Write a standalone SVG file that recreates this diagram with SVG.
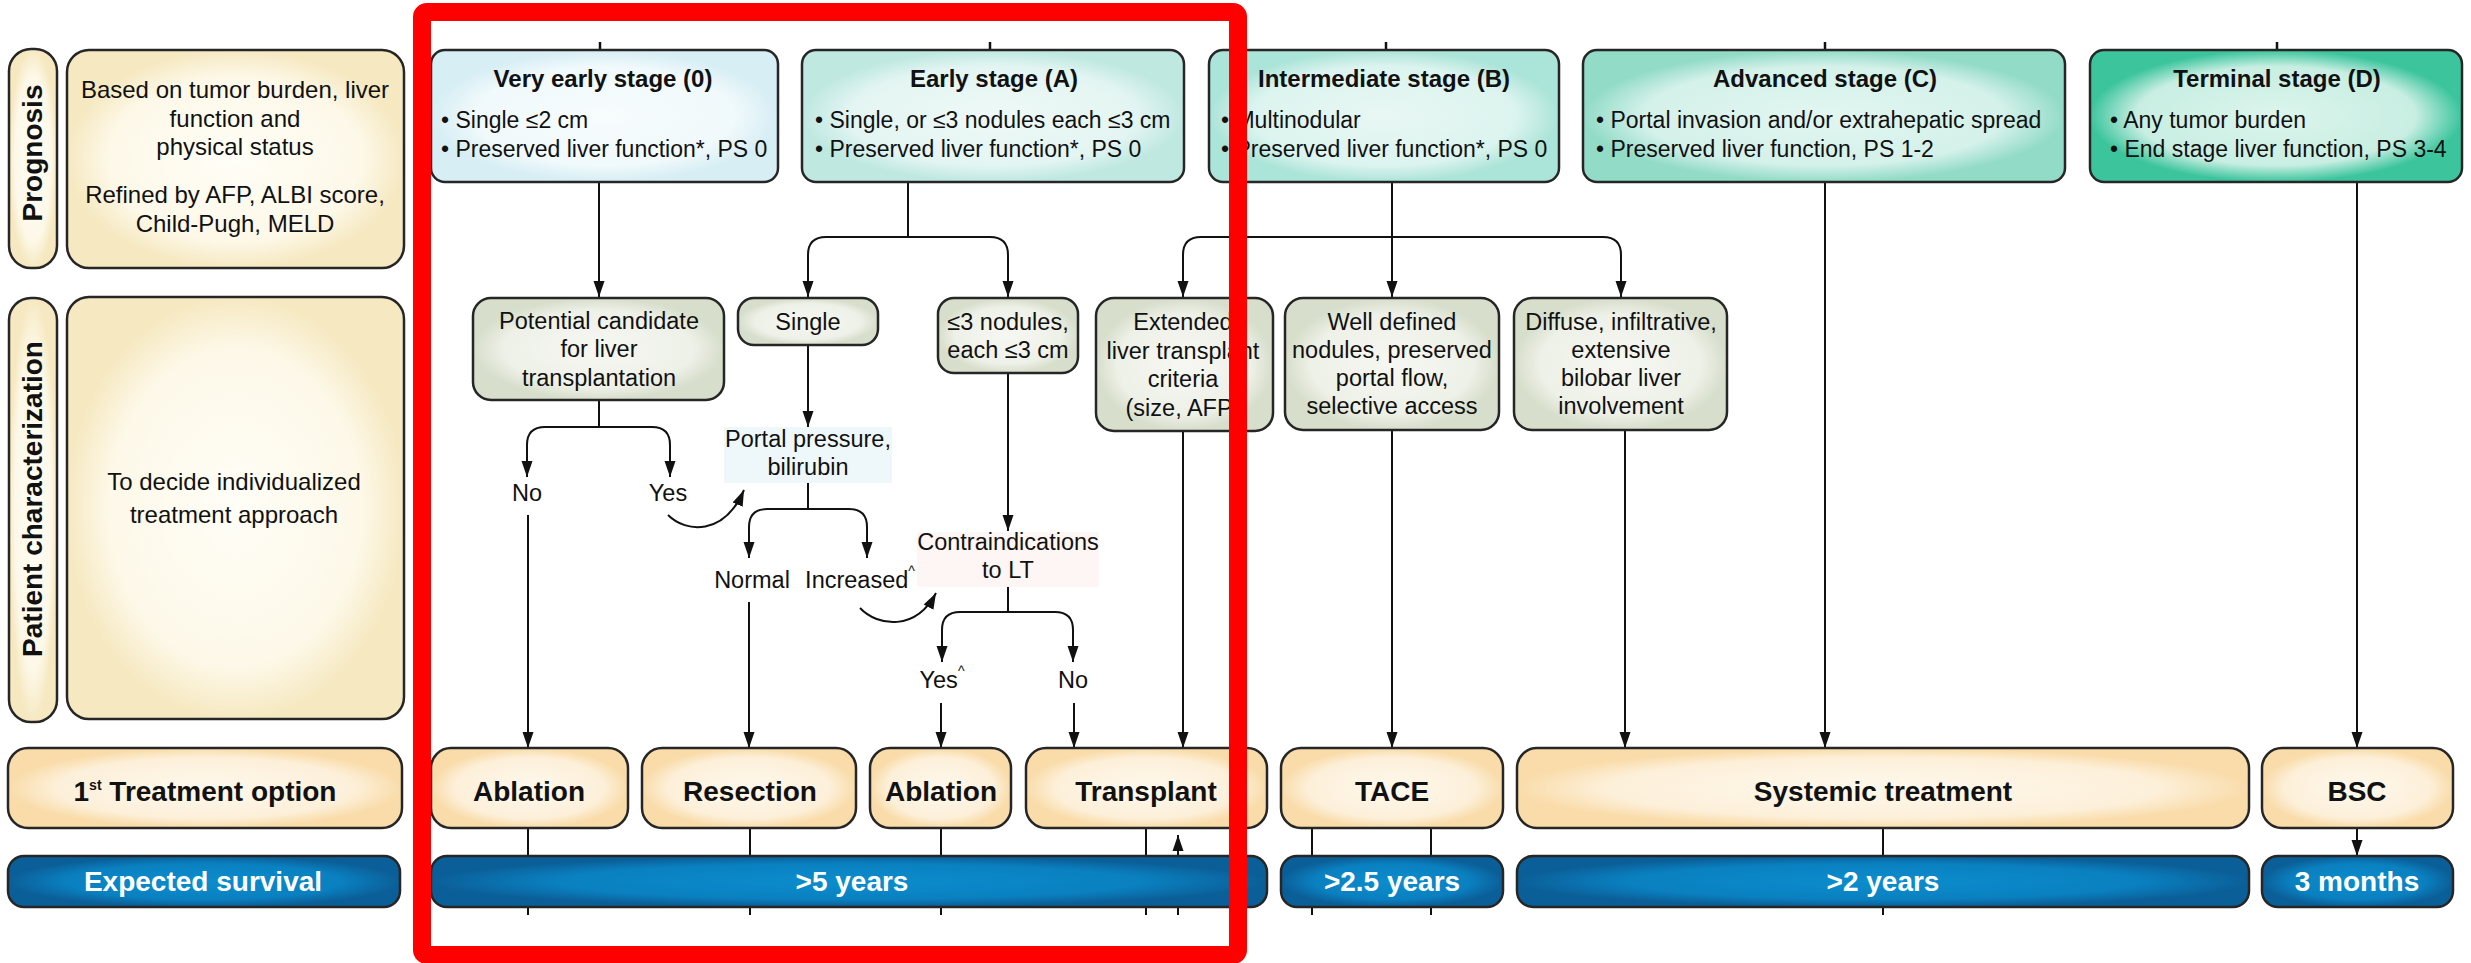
<svg xmlns="http://www.w3.org/2000/svg" width="2471" height="963" viewBox="0 0 2471 963">
  <style>
    text { font-family: "Liberation Sans", Arial, sans-serif; fill: #111; }
    .box { stroke: #262626; stroke-width: 2.5; }
    .title { font-size: 24px; font-weight: bold; text-anchor: middle; }
    .bul { font-size: 23px; }
    .nt { font-size: 23.5px; text-anchor: middle; }
    .side { font-size: 28px; font-weight: bold; text-anchor: middle; }
    .lt { font-size: 24px; text-anchor: middle; }
    .tx { font-size: 28px; font-weight: bold; text-anchor: middle; }
    .sv { font-size: 28px; font-weight: bold; text-anchor: middle; fill: #ffffff; }
    .sup { font-size: 14px; }
    .ln { fill: none; stroke: #111; stroke-width: 2; }
    .arr { fill: none; stroke: #111; stroke-width: 2; marker-end: url(#ah); }
    .tick { stroke: #111; stroke-width: 2.5; }
  </style>
  <defs>
    <marker id="ah" markerUnits="userSpaceOnUse" markerWidth="16" markerHeight="12" refX="16" refY="6" orient="auto">
      <path d="M0,0.5 L16,6 L0,11.5 z" fill="#111"/>
    </marker>
    <radialGradient id="gS0" cx="50%" cy="50%" r="50%"><stop offset="0" stop-color="#f7fcfd"/><stop offset="0.75" stop-color="#f0f9fb"/><stop offset="1" stop-color="#d6eef4"/></radialGradient>
    <radialGradient id="gSA" cx="50%" cy="50%" r="50%"><stop offset="0" stop-color="#eef9f7"/><stop offset="0.75" stop-color="#e3f5f2"/><stop offset="1" stop-color="#bfe8e1"/></radialGradient>
    <radialGradient id="gSB" cx="50%" cy="50%" r="50%"><stop offset="0" stop-color="#e8f7f4"/><stop offset="0.75" stop-color="#dcf4ef"/><stop offset="1" stop-color="#abe4d8"/></radialGradient>
    <radialGradient id="gSC" cx="50%" cy="50%" r="50%"><stop offset="0" stop-color="#e2f6f1"/><stop offset="0.75" stop-color="#d4f1ea"/><stop offset="1" stop-color="#92dbc7"/></radialGradient>
    <radialGradient id="gSD" cx="50%" cy="50%" r="50%"><stop offset="0" stop-color="#dcf5ed"/><stop offset="0.75" stop-color="#c8eee2"/><stop offset="1" stop-color="#3cc59d"/></radialGradient>
    <radialGradient id="gGr" cx="50%" cy="50%" r="50%"><stop offset="0" stop-color="#f6f7f2"/><stop offset="0.75" stop-color="#eef1e8"/><stop offset="1" stop-color="#d7decb"/></radialGradient>
    <radialGradient id="gCr" cx="50%" cy="50%" r="50%"><stop offset="0" stop-color="#fffef7"/><stop offset="0.75" stop-color="#fdf8e8"/><stop offset="1" stop-color="#f6e9c2"/></radialGradient>
    <radialGradient id="gTr" cx="50%" cy="50%" r="50%"><stop offset="0" stop-color="#fef8ec"/><stop offset="0.75" stop-color="#fdf0da"/><stop offset="1" stop-color="#f9dcaa"/></radialGradient>
    <radialGradient id="gBl" cx="50%" cy="50%" r="50%"><stop offset="0" stop-color="#0b8dcd"/><stop offset="0.7" stop-color="#0a80c0"/><stop offset="1" stop-color="#0b5f98"/></radialGradient>
  </defs>

  <rect width="2471" height="963" fill="#ffffff"/>

  <!-- connectors -->
  <g id="connectors">
    <!-- small stubs above the stage boxes -->
    <line class="tick" x1="600" y1="42" x2="600" y2="50"/>
    <line class="tick" x1="990" y1="42" x2="990" y2="50"/>
    <line class="tick" x1="1386" y1="42" x2="1386" y2="50"/>
    <line class="tick" x1="1825" y1="42" x2="1825" y2="50"/>
    <line class="tick" x1="2277" y1="42" x2="2277" y2="50"/>

    <!-- stage 0 -->
    <path class="arr" d="M599,182 V297"/>
    <!-- stage A split -->
    <path class="ln" d="M908,182 V237"/>
    <path class="arr" d="M908,237 H826 Q808,237 808,255 V297"/>
    <path class="arr" d="M908,237 H990 Q1008,237 1008,255 V297"/>
    <!-- stage B split -->
    <path class="arr" d="M1392,182 V297"/>
    <path class="arr" d="M1392,237 H1201 Q1183,237 1183,255 V297"/>
    <path class="arr" d="M1392,237 H1603 Q1621,237 1621,255 V297"/>
    <!-- stage C and D straight down -->
    <path class="arr" d="M1825,182 V748"/>
    <path class="arr" d="M2357,182 V748"/>

    <!-- liver transplant candidate -->
    <path class="ln" d="M599,400 V427"/>
    <path class="arr" d="M599,427 H545 Q527,427 527,445 V477"/>
    <path class="arr" d="M599,427 H652 Q670,427 670,445 V477"/>
    <path class="arr" d="M528,515 V748"/>
    <path class="arr" d="M668,515 C686,533 724,536 744,490"/>

    <!-- single nodule -->
    <path class="arr" d="M808,345 V427"/>
    <path class="ln" d="M808,483 V509"/>
    <path class="arr" d="M808,509 H767 Q749,509 749,527 V558"/>
    <path class="arr" d="M808,509 H849 Q867,509 867,527 V558"/>
    <path class="arr" d="M749,602 V748"/>
    <path class="arr" d="M860,608 C878,627 916,631 936,593"/>

    <!-- up to 3 nodules -->
    <path class="arr" d="M1008,373 V531"/>
    <path class="ln" d="M1008,587 V612"/>
    <path class="arr" d="M1008,612 H960 Q942,612 942,630 V662"/>
    <path class="arr" d="M1008,612 H1055 Q1073,612 1073,630 V662"/>
    <path class="arr" d="M941,703 V748"/>
    <path class="arr" d="M1074,703 V748"/>

    <!-- intermediate branches -->
    <path class="arr" d="M1183,431 V748"/>
    <path class="arr" d="M1392,430 V748"/>
    <path class="arr" d="M1625,430 V748"/>

    <!-- treatment to survival -->
    <path class="ln" d="M528,828 V915"/>
    <path class="ln" d="M750,828 V915"/>
    <path class="ln" d="M941,828 V915"/>
    <path class="ln" d="M1146,828 V915"/>
    <path class="arr" d="M1178,915 V835"/>
    <path class="ln" d="M1312,828 V915"/>
    <path class="ln" d="M1431,828 V915"/>
    <path class="ln" d="M1883,828 V915"/>
    <path class="arr" d="M2357,828 V856"/>
  </g>

  <!-- row headings -->
  <g id="prognosis-label">
    <rect class="box" x="9" y="49" width="48" height="219" rx="22" fill="url(#gCr)"/>
    <text class="side" transform="translate(42,153) rotate(-90)">Prognosis</text>
  </g>
  <g id="prognosis-desc">
    <rect class="box" x="67" y="50" width="337" height="218" rx="22" fill="url(#gCr)"/>
    <text class="lt" x="235" y="98">Based on tumor burden, liver</text>
    <text class="lt" x="235" y="127">function and</text>
    <text class="lt" x="235" y="155">physical status</text>
    <text class="lt" x="235" y="203">Refined by AFP, ALBI score,</text>
    <text class="lt" x="235" y="232">Child-Pugh, MELD</text>
  </g>
  <g id="patient-label">
    <rect class="box" x="9" y="298" width="48" height="424" rx="22" fill="url(#gCr)"/>
    <text class="side" transform="translate(42,499) rotate(-90)">Patient characterization</text>
  </g>
  <g id="patient-desc">
    <rect class="box" x="67" y="297" width="337" height="422" rx="22" fill="url(#gCr)"/>
    <text class="lt" x="234" y="490">To decide individualized</text>
    <text class="lt" x="234" y="523">treatment approach</text>
  </g>
  <g id="treatment-label">
    <rect class="box" x="8" y="748" width="394" height="80" rx="20" fill="url(#gTr)"/>
    <text class="tx" x="205" y="801">1<tspan class="sup" dy="-11">st</tspan><tspan dy="11"> Treatment option</tspan></text>
  </g>
  <g id="survival-label">
    <rect class="box" x="8" y="856" width="392" height="51" rx="16" fill="url(#gBl)"/>
    <text class="sv" x="203" y="891">Expected survival</text>
  </g>

  <!-- stages -->
  <g id="stage-0">
    <rect class="box" x="431" y="50" width="347" height="132" rx="14" fill="url(#gS0)"/>
    <text class="title" x="603" y="87">Very early stage (0)</text>
    <text class="bul" x="441" y="128">• Single ≤2 cm</text>
    <text class="bul" x="441" y="157">• Preserved liver function*, PS 0</text>
  </g>
  <g id="stage-a">
    <rect class="box" x="802" y="50" width="382" height="132" rx="14" fill="url(#gSA)"/>
    <text class="title" x="994" y="87">Early stage (A)</text>
    <text class="bul" x="815" y="128">• Single, or ≤3 nodules each ≤3 cm</text>
    <text class="bul" x="815" y="157">• Preserved liver function*, PS 0</text>
  </g>
  <g id="stage-b">
    <rect class="box" x="1209" y="50" width="350" height="132" rx="14" fill="url(#gSB)"/>
    <text class="title" x="1384" y="87">Intermediate stage (B)</text>
    <text class="bul" x="1221" y="128">• Multinodular</text>
    <text class="bul" x="1221" y="157">• Preserved liver function*, PS 0</text>
  </g>
  <g id="stage-c">
    <rect class="box" x="1583" y="50" width="482" height="132" rx="14" fill="url(#gSC)"/>
    <text class="title" x="1825" y="87">Advanced stage (C)</text>
    <text class="bul" x="1596" y="128">• Portal invasion and/or extrahepatic spread</text>
    <text class="bul" x="1596" y="157">• Preserved liver function, PS 1-2</text>
  </g>
  <g id="stage-d">
    <rect class="box" x="2090" y="50" width="372" height="132" rx="14" fill="url(#gSD)"/>
    <text class="title" x="2277" y="87">Terminal stage (D)</text>
    <text class="bul" x="2110" y="128">• Any tumor burden</text>
    <text class="bul" x="2110" y="157">• End stage liver function, PS 3-4</text>
  </g>

  <!-- patient characterization nodes -->
  <g id="lt-candidate">
    <rect class="box" x="473" y="298" width="251" height="102" rx="18" fill="url(#gGr)"/>
    <text class="nt" x="599" y="329">Potential candidate</text>
    <text class="nt" x="599" y="357">for liver</text>
    <text class="nt" x="599" y="386">transplantation</text>
  </g>
  <g id="single">
    <rect class="box" x="738" y="298" width="140" height="47" rx="16" fill="url(#gGr)"/>
    <text class="nt" x="808" y="330">Single</text>
  </g>
  <g id="three-nodules">
    <rect class="box" x="938" y="298" width="140" height="75" rx="16" fill="url(#gGr)"/>
    <text class="nt" x="1008" y="330">≤3 nodules,</text>
    <text class="nt" x="1008" y="358">each ≤3 cm</text>
  </g>
  <g id="extended-criteria">
    <rect class="box" x="1096" y="298" width="177" height="133" rx="18" fill="url(#gGr)"/>
    <text class="nt" x="1183" y="330">Extended</text>
    <text class="nt" x="1183" y="359">liver transplant</text>
    <text class="nt" x="1183" y="387">criteria</text>
    <text class="nt" x="1183" y="416">(size, AFP)</text>
  </g>
  <g id="well-defined">
    <rect class="box" x="1285" y="298" width="214" height="132" rx="18" fill="url(#gGr)"/>
    <text class="nt" x="1392" y="330">Well defined</text>
    <text class="nt" x="1392" y="358">nodules, preserved</text>
    <text class="nt" x="1392" y="386">portal flow,</text>
    <text class="nt" x="1392" y="414">selective access</text>
  </g>
  <g id="diffuse">
    <rect class="box" x="1514" y="298" width="213" height="132" rx="18" fill="url(#gGr)"/>
    <text class="nt" x="1621" y="330">Diffuse, infiltrative,</text>
    <text class="nt" x="1621" y="358">extensive</text>
    <text class="nt" x="1621" y="386">bilobar liver</text>
    <text class="nt" x="1621" y="414">involvement</text>
  </g>

  <!-- decision labels -->
  <g id="no-1"><text class="nt" x="527" y="501">No</text></g>
  <g id="yes-1"><text class="nt" x="668" y="501">Yes</text></g>
  <g id="portal-pressure">
    <rect x="724" y="427" width="168" height="56" fill="#eef8fa"/>
    <text class="nt" x="808" y="447">Portal pressure,</text>
    <text class="nt" x="808" y="475">bilirubin</text>
  </g>
  <g id="normal"><text class="nt" x="752" y="588">Normal</text></g>
  <g id="increased"><text class="nt" x="860" y="588">Increased<tspan class="sup" dy="-12">^</tspan></text></g>
  <g id="contraindications">
    <rect x="917" y="532" width="182" height="55" fill="#fdf6f4"/>
    <text class="nt" x="1008" y="550">Contraindications</text>
    <text class="nt" x="1008" y="578">to LT</text>
  </g>
  <g id="yes-2"><text class="nt" x="942" y="688">Yes<tspan class="sup" dy="-12">^</tspan></text></g>
  <g id="no-2"><text class="nt" x="1073" y="688">No</text></g>

  <!-- treatment options -->
  <g id="ablation-0">
    <rect class="box" x="431" y="748" width="197" height="80" rx="20" fill="url(#gTr)"/>
    <text class="tx" x="529" y="801">Ablation</text>
  </g>
  <g id="resection">
    <rect class="box" x="642" y="748" width="214" height="80" rx="20" fill="url(#gTr)"/>
    <text class="tx" x="750" y="801">Resection</text>
  </g>
  <g id="ablation-a">
    <rect class="box" x="870" y="748" width="141" height="80" rx="20" fill="url(#gTr)"/>
    <text class="tx" x="941" y="801">Ablation</text>
  </g>
  <g id="transplant">
    <rect class="box" x="1026" y="748" width="241" height="80" rx="20" fill="url(#gTr)"/>
    <text class="tx" x="1146" y="801">Transplant</text>
  </g>
  <g id="tace">
    <rect class="box" x="1281" y="748" width="222" height="80" rx="20" fill="url(#gTr)"/>
    <text class="tx" x="1392" y="801">TACE</text>
  </g>
  <g id="systemic">
    <rect class="box" x="1517" y="748" width="732" height="80" rx="20" fill="url(#gTr)"/>
    <text class="tx" x="1883" y="801">Systemic treatment</text>
  </g>
  <g id="bsc">
    <rect class="box" x="2262" y="748" width="191" height="80" rx="20" fill="url(#gTr)"/>
    <text class="tx" x="2357" y="801">BSC</text>
  </g>

  <!-- expected survival -->
  <g id="survival-5y">
    <rect class="box" x="431" y="856" width="836" height="51" rx="16" fill="url(#gBl)"/>
    <text class="sv" x="852" y="891">&gt;5 years</text>
  </g>
  <g id="survival-2-5y">
    <rect class="box" x="1281" y="856" width="222" height="51" rx="16" fill="url(#gBl)"/>
    <text class="sv" x="1392" y="891">&gt;2.5 years</text>
  </g>
  <g id="survival-2y">
    <rect class="box" x="1517" y="856" width="732" height="51" rx="16" fill="url(#gBl)"/>
    <text class="sv" x="1883" y="891">&gt;2 years</text>
  </g>
  <g id="survival-3m">
    <rect class="box" x="2262" y="856" width="191" height="51" rx="16" fill="url(#gBl)"/>
    <text class="sv" x="2357" y="891">3 months</text>
  </g>

  <!-- highlight frame around the early-stage pathways -->
  <g id="highlight">
    <rect x="422" y="12" width="816" height="943" rx="5" fill="none" stroke="#ff0000" stroke-width="18"/>
  </g>
</svg>
